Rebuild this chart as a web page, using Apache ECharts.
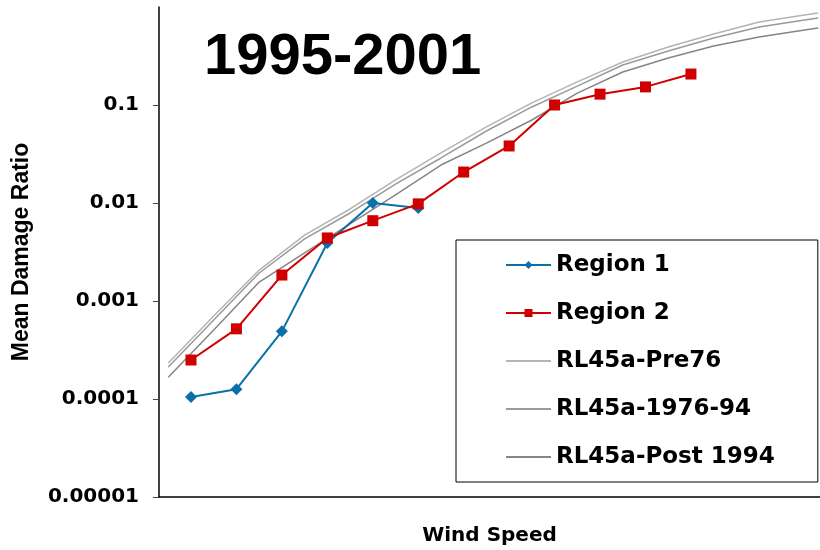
<!DOCTYPE html>
<html>
<head>
<meta charset="utf-8">
<script src="https://cdn.jsdelivr.net/npm/echarts@6/dist/echarts.min.js"></script>
<style>html,body{margin:0;padding:0;background:#fff;}#c{width:820px;height:550px;}</style>
</head>
<body>
<div id="c"></div>
<script>
// ---- data ----
var titleText = '1995-2001';
var yTickLabels = ['0.00001', '0.0001', '0.001', '0.01', '0.1', '1'];
var regionX = [1, 2, 3, 4, 5, 6, 7, 8, 9, 10, 11, 12];
var region1 = [0.000105, 0.000126, 0.00049, 0.0039, 0.0100, 0.0089];
var region2 = [0.00025, 0.00052, 0.00184, 0.0044, 0.0066, 0.0098, 0.0207, 0.0382, 0.100, 0.129, 0.153, 0.207];
var curveX = [0.5, 1.5, 2.5, 3.5, 4.5, 5.5, 6.5, 7.5, 8.5, 9.5, 10.5, 11.5, 12.5, 13.5, 14.5, 14.8];
var pre76 = [0.000233, 0.000703, 0.00207, 0.00471, 0.00869, 0.0172, 0.0324, 0.0597, 0.105, 0.172, 0.275, 0.391, 0.530, 0.703, 0.828, 0.869];
var mid7694 = [0.000212, 0.000640, 0.00193, 0.00430, 0.00791, 0.0156, 0.0288, 0.0543, 0.0955, 0.156, 0.256, 0.356, 0.483, 0.625, 0.736, 0.773];
var post94 = [0.000167, 0.000506, 0.00156, 0.00309, 0.00611, 0.0121, 0.0244, 0.0409, 0.0703, 0.132, 0.217, 0.302, 0.400, 0.494, 0.582, 0.611];
var seriesNames = ['Region 1', 'Region 2', 'RL45a-Pre76', 'RL45a-1976-94', 'RL45a-Post 1994'];
var xName = 'Wind Speed';
var yName = 'Mean Damage Ratio';

function pairs(xs, ys) { return ys.map(function (v, i) { return [xs[i], v]; }); }

var chart = echarts.init(document.getElementById('c'), null, { renderer: 'canvas' });
var labelFont = 'DejaVu Sans';
chart.setOption({
  animation: false,
  backgroundColor: '#ffffff',
  title: {
    text: titleText, left: 199, top: 24,
    textStyle: { fontFamily: 'Liberation Sans', fontWeight: 'bold', fontSize: 58, color: '#000' }
  },
  grid: { left: 159, right: 0, top: 7, bottom: 53, containLabel: false, outerBoundsMode: 'none' },
  xAxis: {
    type: 'value', min: 0.296, max: 14.84,
    name: xName, nameLocation: 'middle', nameGap: 29,
    nameTextStyle: { fontFamily: labelFont, fontWeight: 'bold', fontSize: 20, color: '#000' },
    axisLine: { show: true, lineStyle: { color: '#000', width: 1.5 } },
    axisTick: { show: false }, axisLabel: { show: false }, splitLine: { show: false }
  },
  yAxis: {
    type: 'log', logBase: 10, min: 0.00001, max: 1,
    name: yName, nameLocation: 'middle', nameGap: 126, nameRotate: 90,
    nameTextStyle: { fontFamily: 'Liberation Sans', fontWeight: 'bold', fontSize: 23, color: '#000' },
    axisLine: { show: true, lineStyle: { color: '#000', width: 1.5 } },
    axisTick: { show: true, inside: false, length: 6, lineStyle: { color: '#444', width: 1 } },
    axisLabel: {
      margin: 20, fontFamily: labelFont, fontWeight: 'bold', fontSize: 20, color: '#000',
      showMaxLabel: false,
      formatter: function (v) { return yTickLabels[Math.round(Math.log10(v)) + 5]; }
    },
    splitLine: { show: false }
  },
  legend: {
    orient: 'vertical', left: 456, top: 240,
    data: [
      { name: seriesNames[0] },
      { name: seriesNames[1] },
      { name: seriesNames[2], itemStyle: { opacity: 0 } },
      { name: seriesNames[3], itemStyle: { opacity: 0 } },
      { name: seriesNames[4], itemStyle: { opacity: 0 } }
    ],
    borderColor: '#000', borderWidth: 1, borderRadius: 0,
    padding: [13, 43, 13, 49],
    itemWidth: 45, itemHeight: 10, itemGap: 24,
    textStyle: { fontFamily: labelFont, fontWeight: 'bold', fontSize: 23, color: '#000', lineHeight: 24 }
  },
  series: [
    { name: seriesNames[2], type: 'line', data: pairs(curveX, pre76), symbol: 'none',
      lineStyle: { color: '#b4b4b4', width: 1.5 }, itemStyle: { color: '#b4b4b4' } },
    { name: seriesNames[3], type: 'line', data: pairs(curveX, mid7694), symbol: 'none',
      lineStyle: { color: '#9a9a9a', width: 1.5 }, itemStyle: { color: '#9a9a9a' } },
    { name: seriesNames[4], type: 'line', data: pairs(curveX, post94), symbol: 'none',
      lineStyle: { color: '#858585', width: 1.5 }, itemStyle: { color: '#858585' } },
    { name: seriesNames[0], type: 'line', data: pairs(regionX, region1), symbol: 'diamond', symbolSize: 12,
      lineStyle: { color: '#0a70aa', width: 2 }, itemStyle: { color: '#0a70aa' } },
    { name: seriesNames[1], type: 'line', data: pairs(regionX, region2), symbol: 'rect', symbolSize: 11,
      lineStyle: { color: '#d00000', width: 2 }, itemStyle: { color: '#d00000' } }
  ]
});
</script>
</body>
</html>
